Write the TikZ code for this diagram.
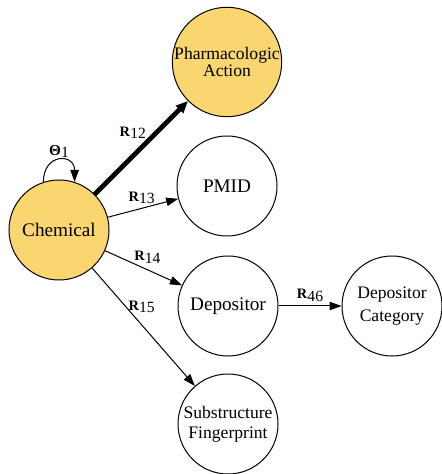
\documentclass[tikz,border=0pt]{standalone}
\usepackage{fontspec}
\setmainfont{Liberation Serif}
\usetikzlibrary{arrows.meta}
\definecolor{hubfill}{RGB}{249,214,112}
\newcommand{\relname}[1]{{\fontsize{7.2}{8}\selectfont\textbf{R}}\raisebox{-0.35ex}{\fontsize{7.8}{8}\selectfont #1}}

\begin{document}
\begin{tikzpicture}[
    x=0.5pt, y=-0.5pt,
    entity/.style={circle, draw=black, line width=0.5pt, minimum size=50pt, inner sep=0pt, align=center, fill=white, font=\fontsize{9.6}{10.5}\selectfont},
    entitysmall/.style={entity, font=\fontsize{8.8}{10}\selectfont},
    hub/.style={fill=hubfill},
    rel/.style={-{Triangle[length=6pt,width=4.2pt]}, line width=0.5pt},
    relstrong/.style={-{Triangle[length=6pt,width=5pt]}, line width=2.4pt},
    rellabel/.style={inner sep=1pt, font=\fontsize{7.8}{8}\selectfont}
]
\useasboundingbox (0,0) rectangle (442,474);

\node[entity, hub] (Chemical) at (59,230) {Chemical};
\node[entitysmall, hub, font=\fontsize{8.8}{8.6}\selectfont] (Action) at (227,62) {Pharmacologic\\Action};
\node[entity] (PMID) at (227,186) {PMID};
\node[entity] (Depositor) at (228,306) {Depositor};
\node[entitysmall, font=\fontsize{8.8}{11.2}\selectfont] (Category) at (392,306) {Depositor\\Category};
\node[entitysmall] (Fingerprint) at (228,424) {Substructure\\Fingerprint};

\draw[rel] (Chemical.108) .. controls +(0,-29) and +(0,-29) .. node[rellabel, above] {{\fontsize{7.6}{8}\selectfont\textbf{Θ}}\raisebox{-0.35ex}{1}} (Chemical.72);
\draw[relstrong] (Chemical) -- node[rellabel, pos=0.66, left=3pt] {\relname{12}} (Action);
\draw[rel] (Chemical) -- node[rellabel, pos=0.48, above=1pt] {\relname{13}} (PMID);
\draw[rel] (Chemical) -- node[rellabel, pos=0.55, above=2pt] {\relname{14}} (Depositor);
\draw[rel] (Chemical) -- node[rellabel, pos=0.33, right=0pt] {\relname{15}} (Fingerprint);
\draw[rel] (Depositor) -- node[rellabel, above=1pt] {\relname{46}} (Category);
\end{tikzpicture}
\end{document}
